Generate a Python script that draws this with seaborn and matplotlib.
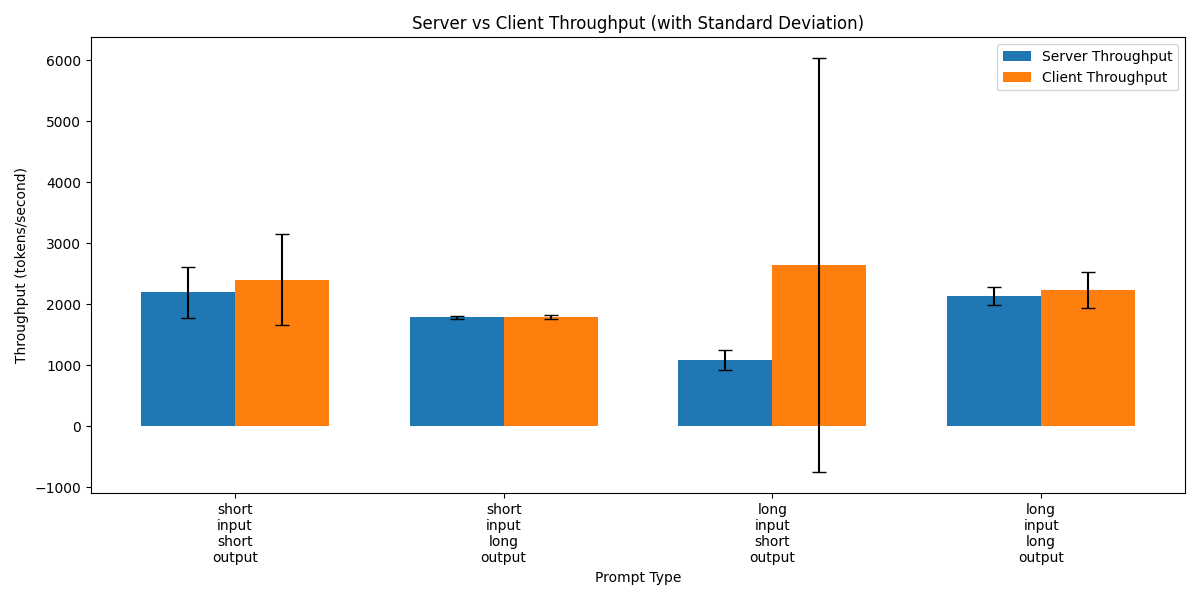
import matplotlib
matplotlib.use("Agg")
import matplotlib.pyplot as plt
import seaborn as sns
import pandas as pd

categories = ["short\ninput\nshort\noutput", "short\ninput\nlong\noutput",
              "long\ninput\nshort\noutput", "long\ninput\nlong\noutput"]
series_names = ["Server Throughput", "Client Throughput"]
server_mean = [2195, 1785, 1084, 2133]
server_std = [420, 25, 168, 150]
client_mean = [2405, 1785, 2640, 2230]
client_std = [745, 35, 3398, 296]
colors = ["#1f77b4", "#ff7f0e"]

df = pd.DataFrame({
    "Prompt Type": categories * 2,
    "Throughput": server_mean + client_mean,
    "Series": [series_names[0]] * 4 + [series_names[1]] * 4,
})

fig, ax = plt.subplots(figsize=(12, 6), dpi=100)
sns.barplot(data=df, x="Prompt Type", y="Throughput", hue="Series",
            hue_order=series_names, order=categories, palette=colors,
            width=0.7, saturation=1, errorbar=None, ax=ax, edgecolor="none")

for cont, means, stds in zip(ax.containers, [server_mean, client_mean], [server_std, client_std]):
    xs = [p.get_x() + p.get_width() / 2 for p in cont.patches]
    ax.errorbar(xs, means, yerr=stds, fmt="none", ecolor="black", capsize=5, elinewidth=1.5, capthick=1)

ax.set_xlim(-0.535, 3.535)
ax.set_title("Server vs Client Throughput (with Standard Deviation)")
ax.set_xlabel("Prompt Type")
ax.set_ylabel("Throughput (tokens/second)")
handles, labels = ax.get_legend_handles_labels()
ax.legend(handles[:2], labels[:2], loc="upper right", title=None)
fig.tight_layout()
fig.savefig("out.png", dpi=100)
